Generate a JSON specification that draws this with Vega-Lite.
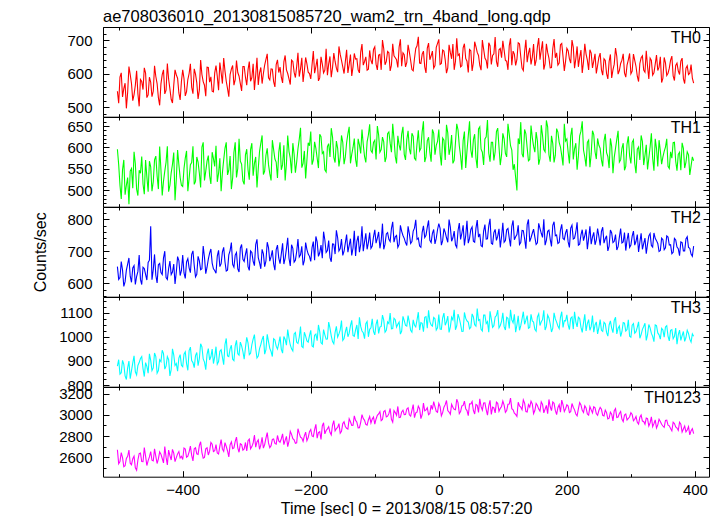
{
"$schema": "https://vega.github.io/schema/vega-lite/v6.json",
"title": {"text": "ae708036010_20130815085720_wam2_trn_4band_long.qdp", "anchor": "start", "frame": "group", "fontSize": 16.5, "font": "Liberation Sans", "fontWeight": "normal", "color": "black", "offset": -12, "baseline": "alphabetic"},
"padding": {"left": 32, "top": 8, "right": 5, "bottom": 0},
"spacing": 0,
"bounds": "flush",
"config": {
  "font": "Liberation Sans",
  "view": {"stroke": "black", "strokeWidth": 1},
  "axis": {"domain": false, "grid": false, "labelFont": "Liberation Sans", "labelFontSize": 15, "labelColor": "black", "tickColor": "black", "tickWidth": 1, "titleFont": "Liberation Sans", "titleFontSize": 16, "titleFontWeight": "normal", "titleColor": "black", "format": "d", "minExtent": 0},
  "title": {"font": "Liberation Sans", "fontSize": 16, "fontWeight": "normal", "color": "black"}
},
"data": {"values": [
{"t":-502,"a":548,"b":596,"c":652,"d":878,"e":2672},
{"t":-498,"a":590,"b":512,"c":618,"d":845,"e":2560},
{"t":-494,"a":531,"b":548,"c":641,"d":902,"e":2598},
{"t":-490,"a":572,"b":490,"c":605,"d":838,"e":2521},
{"t":-486,"a":545,"b":530,"c":660,"d":871,"e":2610},
{"t":-482,"a":598,"b":545,"c":622,"d":826,"e":2545},
{"t":-478,"a":520,"b":505,"c":648,"d":892,"e":2588},
{"t":-474,"a":566,"b":562,"c":596,"d":855,"e":2502},
{"t":-470,"a":541,"b":488,"c":637,"d":881,"e":2575},
{"t":-466,"a":583,"b":540,"c":612,"d":910,"e":2640},
{"t":-462,"a":553,"b":515,"c":650,"d":868,"e":2559},
{"t":-458,"a":602,"b":571,"c":628,"d":893,"e":2612},
{"t":-454,"a":537,"b":497,"c":665,"d":849,"e":2570},
{"t":-450,"a":575,"b":555,"c":778,"d":902,"e":2655},
{"t":-446,"a":548,"b":520,"c":642,"d":871,"e":2566},
{"t":-442,"a":592,"b":580,"c":625,"d":918,"e":2610},
{"t":-438,"a":529,"b":503,"c":658,"d":860,"e":2585},
{"t":-434,"a":570,"b":548,"c":633,"d":897,"e":2630},
{"t":-430,"a":612,"b":522,"c":679,"d":930,"e":2548},
{"t":-426,"a":551,"b":566,"c":618,"d":878,"e":2602},
{"t":-422,"a":584,"b":497,"c":646,"d":905,"e":2668},
{"t":-418,"a":524,"b":541,"c":627,"d":864,"e":2575},
{"t":-414,"a":566,"b":588,"c":660,"d":925,"e":2640},
{"t":-410,"a":597,"b":526,"c":635,"d":889,"e":2597},
{"t":-406,"a":543,"b":560,"c":671,"d":912,"e":2655},
{"t":-402,"a":578,"b":512,"c":640,"d":882,"e":2610},
{"t":-398,"a":586,"b":551,"c":632,"d":928,"e":2688},
{"t":-394,"a":547,"b":592,"c":667,"d":889,"e":2601},
{"t":-390,"a":601,"b":528,"c":648,"d":943,"e":2652},
{"t":-386,"a":560,"b":565,"c":690,"d":901,"e":2619},
{"t":-382,"a":615,"b":514,"c":655,"d":872,"e":2680},
{"t":-378,"a":573,"b":578,"c":628,"d":935,"e":2633},
{"t":-374,"a":552,"b":540,"c":670,"d":910,"e":2712},
{"t":-370,"a":598,"b":601,"c":645,"d":958,"e":2645},
{"t":-366,"a":566,"b":523,"c":681,"d":895,"e":2600},
{"t":-362,"a":620,"b":568,"c":650,"d":927,"e":2690},
{"t":-358,"a":575,"b":534,"c":694,"d":904,"e":2658},
{"t":-354,"a":548,"b":589,"c":663,"d":949,"e":2723},
{"t":-350,"a":603,"b":556,"c":640,"d":918,"e":2662},
{"t":-346,"a":592,"b":520,"c":685,"d":886,"e":2641},
{"t":-342,"a":634,"b":575,"c":652,"d":940,"e":2706},
{"t":-338,"a":571,"b":541,"c":698,"d":915,"e":2677},
{"t":-334,"a":609,"b":598,"c":667,"d":968,"e":2739},
{"t":-330,"a":556,"b":536,"c":641,"d":921,"e":2660},
{"t":-326,"a":598,"b":580,"c":702,"d":950,"e":2718},
{"t":-322,"a":625,"b":529,"c":659,"d":907,"e":2682},
{"t":-318,"a":583,"b":612,"c":688,"d":962,"e":2751},
{"t":-314,"a":604,"b":551,"c":645,"d":930,"e":2690},
{"t":-310,"a":571,"b":568,"c":710,"d":978,"e":2728},
{"t":-306,"a":622,"b":522,"c":675,"d":939,"e":2668},
{"t":-302,"a":590,"b":583,"c":690,"d":955,"e":2740},
{"t":-298,"a":612,"b":548,"c":652,"d":975,"e":2757},
{"t":-294,"a":578,"b":595,"c":701,"d":932,"e":2680},
{"t":-290,"a":630,"b":534,"c":668,"d":990,"e":2733},
{"t":-286,"a":596,"b":578,"c":721,"d":951,"e":2696},
{"t":-282,"a":567,"b":551,"c":680,"d":920,"e":2765},
{"t":-278,"a":619,"b":610,"c":645,"d":968,"e":2718},
{"t":-274,"a":601,"b":537,"c":692,"d":1003,"e":2687},
{"t":-270,"a":643,"b":582,"c":670,"d":947,"e":2781},
{"t":-266,"a":588,"b":560,"c":711,"d":980,"e":2736},
{"t":-262,"a":615,"b":523,"c":683,"d":939,"e":2710},
{"t":-258,"a":577,"b":595,"c":660,"d":992,"e":2773},
{"t":-254,"a":628,"b":566,"c":705,"d":961,"e":2725},
{"t":-250,"a":604,"b":589,"c":679,"d":972,"e":2754},
{"t":-246,"a":590,"b":548,"c":692,"d":948,"e":2775},
{"t":-242,"a":636,"b":605,"c":660,"d":1001,"e":2720},
{"t":-238,"a":612,"b":562,"c":708,"d":965,"e":2797},
{"t":-234,"a":585,"b":591,"c":678,"d":994,"e":2753},
{"t":-230,"a":641,"b":540,"c":720,"d":950,"e":2816},
{"t":-226,"a":605,"b":584,"c":666,"d":1012,"e":2764},
{"t":-222,"a":622,"b":566,"c":699,"d":977,"e":2737},
{"t":-218,"a":592,"b":619,"c":682,"d":998,"e":2825},
{"t":-214,"a":648,"b":553,"c":715,"d":960,"e":2781},
{"t":-210,"a":610,"b":592,"c":671,"d":1019,"e":2803},
{"t":-206,"a":630,"b":571,"c":705,"d":983,"e":2757},
{"t":-202,"a":601,"b":604,"c":684,"d":1005,"e":2841},
{"t":-198,"a":627,"b":560,"c":711,"d":962,"e":2801},
{"t":-194,"a":602,"b":613,"c":672,"d":1006,"e":2860},
{"t":-190,"a":645,"b":575,"c":729,"d":984,"e":2780},
{"t":-186,"a":588,"b":631,"c":695,"d":1021,"e":2842},
{"t":-182,"a":630,"b":586,"c":678,"d":970,"e":2895},
{"t":-178,"a":611,"b":548,"c":735,"d":1008,"e":2821},
{"t":-174,"a":596,"b":602,"c":702,"d":991,"e":2868},
{"t":-170,"a":652,"b":578,"c":680,"d":1036,"e":2836},
{"t":-166,"a":619,"b":624,"c":723,"d":980,"e":2904},
{"t":-162,"a":637,"b":565,"c":691,"d":1018,"e":2850},
{"t":-158,"a":605,"b":598,"c":742,"d":999,"e":2881},
{"t":-154,"a":658,"b":577,"c":708,"d":1029,"e":2827},
{"t":-150,"a":621,"b":612,"c":687,"d":985,"e":2918},
{"t":-146,"a":637,"b":578,"c":726,"d":1020,"e":2890},
{"t":-142,"a":603,"b":632,"c":697,"d":1000,"e":2866},
{"t":-138,"a":658,"b":563,"c":739,"d":1046,"e":2935},
{"t":-134,"a":621,"b":600,"c":710,"d":1006,"e":2902},
{"t":-130,"a":644,"b":572,"c":685,"d":1029,"e":2948},
{"t":-126,"a":612,"b":620,"c":748,"d":991,"e":2878},
{"t":-122,"a":665,"b":586,"c":721,"d":1043,"e":2930},
{"t":-118,"a":626,"b":607,"c":700,"d":1017,"e":2965},
{"t":-114,"a":651,"b":565,"c":756,"d":1054,"e":2911},
{"t":-110,"a":614,"b":629,"c":727,"d":1000,"e":2952},
{"t":-106,"a":640,"b":593,"c":709,"d":1037,"e":2923},
{"t":-102,"a":673,"b":612,"c":745,"d":1022,"e":2980},
{"t":-98,"a":629,"b":572,"c":725,"d":1052,"e":2961},
{"t":-94,"a":656,"b":629,"c":760,"d":1014,"e":3008},
{"t":-90,"a":612,"b":595,"c":732,"d":1043,"e":2945},
{"t":-86,"a":675,"b":613,"c":706,"d":1069,"e":3032},
{"t":-82,"a":637,"b":578,"c":754,"d":1027,"e":2980},
{"t":-78,"a":663,"b":636,"c":737,"d":1055,"e":3011},
{"t":-74,"a":626,"b":589,"c":771,"d":1033,"e":2958},
{"t":-70,"a":654,"b":620,"c":728,"d":1077,"e":3040},
{"t":-66,"a":642,"b":563,"c":749,"d":1040,"e":2996},
{"t":-62,"a":680,"b":606,"c":721,"d":1061,"e":2975},
{"t":-58,"a":623,"b":631,"c":762,"d":1024,"e":3028},
{"t":-54,"a":657,"b":584,"c":740,"d":1067,"e":3002},
{"t":-50,"a":634,"b":618,"c":718,"d":1044,"e":3055},
{"t":-46,"a":665,"b":597,"c":754,"d":1060,"e":3000},
{"t":-42,"a":613,"b":633,"c":730,"d":1019,"e":3043},
{"t":-38,"a":646,"b":575,"c":772,"d":1048,"e":2974},
{"t":-34,"a":684,"b":610,"c":737,"d":1070,"e":3026},
{"t":-30,"a":632,"b":592,"c":716,"d":1028,"e":3059},
{"t":-26,"a":659,"b":637,"c":759,"d":1056,"e":3003},
{"t":-22,"a":621,"b":566,"c":743,"d":1081,"e":3038},
{"t":-18,"a":677,"b":616,"c":775,"d":1036,"e":3066},
{"t":-14,"a":642,"b":589,"c":734,"d":1063,"e":3012},
{"t":-10,"a":668,"b":642,"c":756,"d":1044,"e":3050},
{"t":-6,"a":625,"b":583,"c":723,"d":1075,"e":3077},
{"t":-2,"a":691,"b":614,"c":767,"d":1037,"e":3024},
{"t":2,"a":628,"b":585,"c":771,"d":1032,"e":3078},
{"t":6,"a":671,"b":622,"c":733,"d":1079,"e":3021},
{"t":10,"a":642,"b":571,"c":759,"d":1048,"e":3096},
{"t":14,"a":618,"b":634,"c":728,"d":1086,"e":3040},
{"t":18,"a":664,"b":598,"c":775,"d":1041,"e":3005},
{"t":22,"a":689,"b":563,"c":742,"d":1070,"e":3072},
{"t":26,"a":637,"b":611,"c":720,"d":1029,"e":3048},
{"t":30,"a":655,"b":641,"c":764,"d":1094,"e":3115},
{"t":34,"a":621,"b":580,"c":737,"d":1052,"e":3031},
{"t":38,"a":678,"b":616,"c":781,"d":1023,"e":3089},
{"t":42,"a":646,"b":552,"c":749,"d":1077,"e":3058},
{"t":46,"a":604,"b":627,"c":725,"d":1061,"e":2992},
{"t":50,"a":669,"b":594,"c":768,"d":1039,"e":3102},
{"t":54,"a":633,"b":618,"c":731,"d":1082,"e":3041},
{"t":58,"a":681,"b":575,"c":772,"d":1044,"e":3098},
{"t":62,"a":655,"b":643,"c":744,"d":1068,"e":3023},
{"t":66,"a":611,"b":596,"c":717,"d":1031,"e":3077},
{"t":70,"a":674,"b":559,"c":763,"d":1090,"e":3112},
{"t":74,"a":640,"b":625,"c":738,"d":1055,"e":3050},
{"t":78,"a":693,"b":587,"c":779,"d":1019,"e":3085},
{"t":82,"a":628,"b":612,"c":725,"d":1073,"e":3003},
{"t":86,"a":660,"b":570,"c":758,"d":1046,"e":3066},
{"t":90,"a":637,"b":637,"c":734,"d":1088,"e":3120},
{"t":94,"a":672,"b":601,"c":770,"d":1037,"e":3034},
{"t":98,"a":648,"b":583,"c":745,"d":1064,"e":3079},
{"t":102,"a":671,"b":620,"c":728,"d":1042,"e":3092},
{"t":106,"a":638,"b":578,"c":767,"d":1081,"e":3040},
{"t":110,"a":684,"b":631,"c":741,"d":1035,"e":3101},
{"t":114,"a":626,"b":594,"c":778,"d":1070,"e":3058},
{"t":118,"a":659,"b":561,"c":736,"d":1093,"e":3016},
{"t":122,"a":643,"b":500,"c":752,"d":1049,"e":2985},
{"t":126,"a":690,"b":608,"c":721,"d":1027,"e":3083},
{"t":130,"a":617,"b":585,"c":765,"d":1074,"e":3049},
{"t":134,"a":666,"b":642,"c":739,"d":1052,"e":3110},
{"t":138,"a":635,"b":599,"c":783,"d":1088,"e":3027},
{"t":142,"a":678,"b":572,"c":730,"d":1039,"e":3073},
{"t":146,"a":650,"b":623,"c":756,"d":1066,"e":3102},
{"t":150,"a":624,"b":589,"c":744,"d":1031,"e":3041},
{"t":154,"a":681,"b":615,"c":726,"d":1083,"e":3088},
{"t":158,"a":642,"b":574,"c":771,"d":1047,"e":3035},
{"t":162,"a":697,"b":628,"c":743,"d":1071,"e":3099},
{"t":166,"a":630,"b":590,"c":719,"d":1028,"e":3054},
{"t":170,"a":664,"b":648,"c":762,"d":1090,"e":3011},
{"t":174,"a":618,"b":567,"c":737,"d":1053,"e":3076},
{"t":178,"a":675,"b":609,"c":781,"d":1036,"e":3121},
{"t":182,"a":648,"b":582,"c":748,"d":1074,"e":3042},
{"t":186,"a":626,"b":636,"c":724,"d":1045,"e":3067},
{"t":190,"a":687,"b":601,"c":766,"d":1081,"e":3025},
{"t":194,"a":652,"b":558,"c":740,"d":1039,"e":3094},
{"t":198,"a":638,"b":615,"c":757,"d":1066,"e":3058},
{"t":202,"a":669,"b":589,"c":729,"d":1049,"e":3082},
{"t":206,"a":632,"b":627,"c":772,"d":1077,"e":3030},
{"t":210,"a":680,"b":572,"c":738,"d":1032,"e":3071},
{"t":214,"a":645,"b":610,"c":760,"d":1062,"e":3008},
{"t":218,"a":621,"b":581,"c":719,"d":1081,"e":3056},
{"t":222,"a":671,"b":638,"c":751,"d":1040,"e":3093},
{"t":226,"a":636,"b":594,"c":733,"d":1058,"e":3022},
{"t":230,"a":659,"b":556,"c":768,"d":1024,"e":3065},
{"t":234,"a":612,"b":617,"c":740,"d":1071,"e":2998},
{"t":238,"a":662,"b":585,"c":722,"d":1043,"e":3047},
{"t":242,"a":638,"b":630,"c":759,"d":1019,"e":3076},
{"t":246,"a":601,"b":573,"c":735,"d":1062,"e":3012},
{"t":250,"a":649,"b":605,"c":746,"d":1038,"e":3041},
{"t":254,"a":612,"b":571,"c":762,"d":1027,"e":3052},
{"t":258,"a":645,"b":615,"c":725,"d":1060,"e":2990},
{"t":262,"a":601,"b":588,"c":748,"d":1018,"e":3021},
{"t":266,"a":637,"b":552,"c":716,"d":1049,"e":2968},
{"t":270,"a":588,"b":602,"c":757,"d":1036,"e":3006},
{"t":274,"a":629,"b":577,"c":731,"d":1068,"e":3040},
{"t":278,"a":652,"b":619,"c":704,"d":1012,"e":2975},
{"t":282,"a":610,"b":566,"c":744,"d":1045,"e":3012},
{"t":286,"a":641,"b":598,"c":726,"d":1021,"e":2960},
{"t":290,"a":603,"b":547,"c":758,"d":1057,"e":2998},
{"t":294,"a":626,"b":608,"c":735,"d":1030,"e":2951},
{"t":298,"a":661,"b":580,"c":712,"d":1002,"e":2982},
{"t":302,"a":608,"b":612,"c":747,"d":1048,"e":3003},
{"t":306,"a":640,"b":563,"c":719,"d":1015,"e":2958},
{"t":310,"a":593,"b":596,"c":752,"d":1040,"e":2930},
{"t":314,"a":631,"b":571,"c":728,"d":994,"e":2977},
{"t":318,"a":654,"b":614,"c":706,"d":1031,"e":2942},
{"t":322,"a":605,"b":582,"c":741,"d":1056,"e":2911},
{"t":326,"a":622,"b":549,"c":722,"d":1008,"e":2965},
{"t":330,"a":647,"b":601,"c":755,"d":1037,"e":2924},
{"t":334,"a":596,"b":575,"c":713,"d":1002,"e":2889},
{"t":338,"a":629,"b":620,"c":740,"d":1049,"e":2952},
{"t":342,"a":610,"b":556,"c":724,"d":1016,"e":2906},
{"t":346,"a":651,"b":592,"c":702,"d":990,"e":2938},
{"t":350,"a":587,"b":578,"c":736,"d":1028,"e":2895},
{"t":354,"a":633,"b":601,"c":711,"d":1041,"e":2948},
{"t":358,"a":602,"b":556,"c":744,"d":1003,"e":2903},
{"t":362,"a":641,"b":590,"c":720,"d":1027,"e":2872},
{"t":366,"a":594,"b":611,"c":697,"d":992,"e":2931},
{"t":370,"a":625,"b":568,"c":735,"d":1036,"e":2886},
{"t":374,"a":609,"b":584,"c":708,"d":1008,"e":2855},
{"t":378,"a":638,"b":547,"c":729,"d":985,"e":2912},
{"t":382,"a":586,"b":598,"c":701,"d":1022,"e":2867},
{"t":386,"a":617,"b":566,"c":738,"d":997,"e":2840},
{"t":390,"a":598,"b":583,"c":712,"d":1014,"e":2889},
{"t":394,"a":628,"b":557,"c":691,"d":978,"e":2851},
{"t":398,"a":572,"b":569,"c":716,"d":1002,"e":2823},
{"t":-500,"a":512,"b":560,"c":612,"d":905,"e":2540},
{"t":-496,"a":603,"b":480,"c":668,"d":851,"e":2645},
{"t":-492,"a":556,"b":571,"c":590,"d":886,"e":2512},
{"t":-488,"a":497,"b":512,"c":641,"d":823,"e":2590},
{"t":-484,"a":622,"b":468,"c":679,"d":899,"e":2668},
{"t":-480,"a":571,"b":551,"c":603,"d":860,"e":2531},
{"t":-476,"a":538,"b":590,"c":655,"d":921,"e":2611},
{"t":-472,"a":609,"b":503,"c":621,"d":842,"e":2479},
{"t":-468,"a":503,"b":547,"c":688,"d":893,"e":2635},
{"t":-464,"a":577,"b":579,"c":596,"d":918,"e":2560},
{"t":-460,"a":618,"b":491,"c":646,"d":835,"e":2692},
{"t":-456,"a":529,"b":532,"c":610,"d":877,"e":2523},
{"t":-452,"a":590,"b":568,"c":672,"d":929,"e":2604},
{"t":-448,"a":532,"b":498,"c":611,"d":860,"e":2573},
{"t":-444,"a":624,"b":571,"c":690,"d":933,"e":2680},
{"t":-440,"a":571,"b":534,"c":601,"d":849,"e":2542},
{"t":-436,"a":506,"b":602,"c":662,"d":905,"e":2651},
{"t":-432,"a":598,"b":488,"c":627,"d":944,"e":2589},
{"t":-428,"a":540,"b":545,"c":700,"d":866,"e":2701},
{"t":-424,"a":631,"b":603,"c":612,"d":918,"e":2528},
{"t":-420,"a":555,"b":512,"c":669,"d":838,"e":2617},
{"t":-416,"a":513,"b":561,"c":635,"d":950,"e":2675},
{"t":-412,"a":612,"b":477,"c":598,"d":881,"e":2560},
{"t":-408,"a":587,"b":594,"c":683,"d":857,"e":2633},
{"t":-404,"a":522,"b":530,"c":624,"d":926,"e":2594},
{"t":-400,"a":612,"b":509,"c":688,"d":876,"e":2580},
{"t":-396,"a":534,"b":575,"c":615,"d":938,"e":2679},
{"t":-392,"a":583,"b":498,"c":677,"d":861,"e":2612},
{"t":-388,"a":630,"b":560,"c":633,"d":957,"e":2705},
{"t":-384,"a":541,"b":603,"c":701,"d":893,"e":2566},
{"t":-380,"a":599,"b":521,"c":620,"d":922,"e":2690},
{"t":-376,"a":525,"b":566,"c":684,"d":880,"e":2628},
{"t":-372,"a":641,"b":507,"c":642,"d":971,"e":2747},
{"t":-368,"a":577,"b":612,"c":716,"d":908,"e":2593},
{"t":-364,"a":533,"b":545,"c":630,"d":864,"e":2681},
{"t":-360,"a":619,"b":581,"c":675,"d":951,"e":2622},
{"t":-356,"a":591,"b":515,"c":707,"d":917,"e":2740},
{"t":-352,"a":546,"b":574,"c":645,"d":889,"e":2655},
{"t":-348,"a":625,"b":604,"c":631,"d":959,"e":2720},
{"t":-344,"a":551,"b":540,"c":703,"d":897,"e":2631},
{"t":-340,"a":604,"b":498,"c":661,"d":946,"e":2768},
{"t":-336,"a":647,"b":571,"c":712,"d":884,"e":2657},
{"t":-332,"a":578,"b":612,"c":638,"d":993,"e":2702},
{"t":-328,"a":532,"b":547,"c":689,"d":918,"e":2604},
{"t":-324,"a":614,"b":503,"c":727,"d":965,"e":2745},
{"t":-320,"a":566,"b":589,"c":650,"d":901,"e":2689},
{"t":-316,"a":640,"b":530,"c":696,"d":985,"e":2790},
{"t":-312,"a":593,"b":620,"c":635,"d":924,"e":2648},
{"t":-308,"a":549,"b":561,"c":721,"d":962,"e":2721},
{"t":-304,"a":622,"b":514,"c":668,"d":907,"e":2679},
{"t":-300,"a":566,"b":596,"c":709,"d":998,"e":2661},
{"t":-296,"a":637,"b":525,"c":640,"d":926,"e":2772},
{"t":-292,"a":589,"b":610,"c":696,"d":967,"e":2701},
{"t":-288,"a":552,"b":563,"c":655,"d":1009,"e":2810},
{"t":-284,"a":648,"b":507,"c":737,"d":912,"e":2745},
{"t":-280,"a":603,"b":591,"c":664,"d":951,"e":2676},
{"t":-276,"a":571,"b":628,"c":706,"d":989,"e":2789},
{"t":-272,"a":626,"b":545,"c":652,"d":928,"e":2720},
{"t":-268,"a":660,"b":598,"c":728,"d":1010,"e":2833},
{"t":-264,"a":582,"b":539,"c":669,"d":952,"e":2692},
{"t":-260,"a":614,"b":617,"c":703,"d":918,"e":2768},
{"t":-256,"a":561,"b":573,"c":641,"d":987,"e":2731},
{"t":-252,"a":642,"b":529,"c":719,"d":949,"e":2806},
{"t":-248,"a":620,"b":612,"c":661,"d":1001,"e":2742},
{"t":-244,"a":573,"b":560,"c":725,"d":932,"e":2821},
{"t":-240,"a":655,"b":523,"c":678,"d":989,"e":2760},
{"t":-236,"a":601,"b":628,"c":742,"d":1030,"e":2701},
{"t":-232,"a":568,"b":575,"c":654,"d":966,"e":2845},
{"t":-228,"a":637,"b":610,"c":709,"d":941,"e":2776},
{"t":-224,"a":589,"b":541,"c":672,"d":1018,"e":2732},
{"t":-220,"a":663,"b":597,"c":738,"d":972,"e":2869},
{"t":-216,"a":615,"b":646,"c":689,"d":1042,"e":2790},
{"t":-212,"a":576,"b":563,"c":656,"d":955,"e":2751},
{"t":-208,"a":649,"b":528,"c":727,"d":1003,"e":2838},
{"t":-204,"a":605,"b":611,"c":691,"d":978,"e":2786},
{"t":-200,"a":585,"b":637,"c":668,"d":1027,"e":2862},
{"t":-196,"a":668,"b":571,"c":730,"d":958,"e":2795},
{"t":-192,"a":622,"b":598,"c":746,"d":1011,"e":2910},
{"t":-188,"a":579,"b":552,"c":684,"d":1049,"e":2834},
{"t":-184,"a":651,"b":625,"c":719,"d":975,"e":2768},
{"t":-180,"a":603,"b":590,"c":761,"d":1030,"e":2925},
{"t":-176,"a":675,"b":543,"c":696,"d":990,"e":2853},
{"t":-172,"a":630,"b":609,"c":733,"d":1061,"e":2889},
{"t":-168,"a":590,"b":645,"c":667,"d":1004,"e":2812},
{"t":-164,"a":662,"b":577,"c":722,"d":971,"e":2946},
{"t":-160,"a":617,"b":615,"c":765,"d":1043,"e":2870},
{"t":-156,"a":682,"b":556,"c":701,"d":1012,"e":2918},
{"t":-152,"a":640,"b":628,"c":738,"d":1067,"e":2845},
{"t":-148,"a":601,"b":561,"c":700,"d":993,"e":2935},
{"t":-144,"a":672,"b":611,"c":752,"d":1041,"e":2874},
{"t":-140,"a":628,"b":648,"c":718,"d":1015,"e":2962},
{"t":-136,"a":594,"b":584,"c":687,"d":1068,"e":2901},
{"t":-132,"a":661,"b":621,"c":764,"d":1002,"e":2990},
{"t":-128,"a":645,"b":555,"c":731,"d":1049,"e":2931},
{"t":-124,"a":603,"b":606,"c":697,"d":1081,"e":2879},
{"t":-120,"a":689,"b":642,"c":778,"d":1024,"e":3002},
{"t":-116,"a":637,"b":579,"c":729,"d":992,"e":2948},
{"t":-112,"a":611,"b":613,"c":706,"d":1063,"e":2903},
{"t":-108,"a":670,"b":654,"c":758,"d":1031,"e":2985},
{"t":-104,"a":629,"b":588,"c":716,"d":1075,"e":2960},
{"t":-100,"a":681,"b":617,"c":767,"d":1008,"e":2912},
{"t":-96,"a":612,"b":650,"c":741,"d":1071,"e":2995},
{"t":-92,"a":658,"b":589,"c":709,"d":1040,"e":3030},
{"t":-88,"a":701,"b":624,"c":786,"d":1090,"e":2956},
{"t":-84,"a":627,"b":566,"c":722,"d":1019,"e":3041},
{"t":-80,"a":667,"b":632,"c":758,"d":1062,"e":2987},
{"t":-76,"a":609,"b":610,"c":730,"d":1098,"e":3060},
{"t":-72,"a":690,"b":655,"c":792,"d":1034,"e":2931},
{"t":-68,"a":648,"b":579,"c":745,"d":1071,"e":3021},
{"t":-64,"a":619,"b":627,"c":712,"d":1052,"e":3079},
{"t":-60,"a":703,"b":593,"c":781,"d":1011,"e":2978},
{"t":-56,"a":663,"b":648,"c":749,"d":1085,"e":3044},
{"t":-52,"a":621,"b":571,"c":727,"d":1047,"e":3003},
{"t":-48,"a":687,"b":639,"c":778,"d":1088,"e":3066},
{"t":-44,"a":640,"b":584,"c":724,"d":1027,"e":2988},
{"t":-40,"a":609,"b":626,"c":763,"d":1070,"e":3097},
{"t":-36,"a":676,"b":571,"c":798,"d":1041,"e":3019},
{"t":-32,"a":711,"b":640,"c":741,"d":1102,"e":3082},
{"t":-28,"a":631,"b":598,"c":712,"d":1059,"e":2965},
{"t":-24,"a":668,"b":661,"c":779,"d":1021,"e":3110},
{"t":-20,"a":603,"b":578,"c":750,"d":1084,"e":3047},
{"t":-16,"a":692,"b":624,"c":796,"d":1110,"e":3001},
{"t":-12,"a":654,"b":567,"c":727,"d":1049,"e":3092},
{"t":-8,"a":617,"b":633,"c":768,"d":1080,"e":3125},
{"t":-4,"a":679,"b":605,"c":740,"d":1028,"e":3033},
{"t":0,"a":703,"b":642,"c":786,"d":1092,"e":3108},
{"t":4,"a":631,"b":558,"c":719,"d":1031,"e":2990},
{"t":8,"a":668,"b":617,"c":771,"d":1098,"e":3072},
{"t":12,"a":602,"b":653,"c":742,"d":1062,"e":3135},
{"t":16,"a":687,"b":583,"c":799,"d":1018,"e":3026},
{"t":20,"a":645,"b":629,"c":731,"d":1081,"e":3099},
{"t":24,"a":612,"b":570,"c":763,"d":1112,"e":3052},
{"t":28,"a":706,"b":655,"c":712,"d":1045,"e":3147},
{"t":32,"a":659,"b":604,"c":788,"d":1076,"e":3011},
{"t":36,"a":624,"b":548,"c":756,"d":1022,"e":3084},
{"t":40,"a":690,"b":637,"c":718,"d":1101,"e":3129},
{"t":44,"a":638,"b":592,"c":795,"d":1066,"e":3040},
{"t":48,"a":673,"b":661,"c":740,"d":1033,"e":3103},
{"t":52,"a":609,"b":576,"c":776,"d":1095,"e":3125},
{"t":56,"a":696,"b":631,"c":728,"d":1050,"e":3008},
{"t":60,"a":664,"b":552,"c":797,"d":1117,"e":3090},
{"t":64,"a":625,"b":648,"c":754,"d":1072,"e":3151},
{"t":68,"a":701,"b":589,"c":714,"d":1024,"e":3044},
{"t":72,"a":647,"b":620,"c":783,"d":1090,"e":3113},
{"t":76,"a":616,"b":664,"c":739,"d":1063,"e":2997},
{"t":80,"a":684,"b":567,"c":801,"d":1106,"e":3136},
{"t":84,"a":655,"b":612,"c":722,"d":1039,"e":3072},
{"t":88,"a":710,"b":590,"c":768,"d":1082,"e":3018},
{"t":92,"a":621,"b":645,"c":747,"d":1111,"e":3108},
{"t":96,"a":676,"b":559,"c":712,"d":1047,"e":3061},
{"t":100,"a":699,"b":633,"c":789,"d":1099,"e":3130},
{"t":104,"a":640,"b":586,"c":733,"d":1028,"e":3024},
{"t":108,"a":612,"b":655,"c":771,"d":1077,"e":3099},
{"t":112,"a":706,"b":604,"c":715,"d":1112,"e":3157},
{"t":116,"a":668,"b":548,"c":796,"d":1058,"e":3047},
{"t":120,"a":625,"b":530,"c":745,"d":1019,"e":3004},
{"t":124,"a":693,"b":621,"c":781,"d":1087,"e":3118},
{"t":128,"a":651,"b":659,"c":727,"d":1046,"e":3072},
{"t":132,"a":610,"b":577,"c":764,"d":1104,"e":3140},
{"t":136,"a":702,"b":632,"c":708,"d":1069,"e":3031},
{"t":140,"a":661,"b":569,"c":799,"d":1035,"e":3096},
{"t":144,"a":628,"b":651,"c":742,"d":1093,"e":3128},
{"t":148,"a":689,"b":603,"c":769,"d":1061,"e":3012},
{"t":152,"a":640,"b":636,"c":721,"d":1023,"e":3107},
{"t":156,"a":707,"b":560,"c":787,"d":1095,"e":3054},
{"t":160,"a":671,"b":652,"c":756,"d":1062,"e":3122},
{"t":164,"a":613,"b":595,"c":800,"d":1110,"e":3018},
{"t":168,"a":690,"b":663,"c":734,"d":1043,"e":3089},
{"t":172,"a":647,"b":583,"c":766,"d":1078,"e":3145},
{"t":176,"a":619,"b":627,"c":715,"d":1020,"e":3040},
{"t":180,"a":704,"b":565,"c":792,"d":1099,"e":3108},
{"t":184,"a":663,"b":644,"c":751,"d":1061,"e":3002},
{"t":188,"a":632,"b":612,"c":727,"d":1034,"e":3095},
{"t":192,"a":691,"b":581,"c":784,"d":1104,"e":3138},
{"t":196,"a":609,"b":655,"c":736,"d":1067,"e":3031},
{"t":200,"a":676,"b":620,"c":769,"d":1091,"e":3094},
{"t":204,"a":645,"b":563,"c":712,"d":1030,"e":3021},
{"t":208,"a":701,"b":646,"c":781,"d":1082,"e":3107},
{"t":212,"a":617,"b":597,"c":741,"d":1104,"e":3047},
{"t":216,"a":682,"b":548,"c":790,"d":1041,"e":2990},
{"t":220,"a":649,"b":627,"c":722,"d":1076,"e":3116},
{"t":224,"a":603,"b":661,"c":767,"d":1018,"e":3042},
{"t":228,"a":690,"b":578,"c":749,"d":1093,"e":3085},
{"t":232,"a":641,"b":612,"c":706,"d":1055,"e":3009},
{"t":236,"a":672,"b":554,"c":778,"d":1027,"e":3078},
{"t":240,"a":618,"b":639,"c":744,"d":1088,"e":3019},
{"t":244,"a":660,"b":590,"c":720,"d":1049,"e":3066},
{"t":248,"a":625,"b":621,"c":771,"d":1012,"e":2996},
{"t":252,"a":662,"b":598,"c":718,"d":1071,"e":3070},
{"t":256,"a":596,"b":556,"c":775,"d":1022,"e":2995},
{"t":260,"a":640,"b":632,"c":739,"d":1054,"e":3044},
{"t":264,"a":585,"b":579,"c":701,"d":1003,"e":2961},
{"t":268,"a":658,"b":621,"c":766,"d":1066,"e":3025},
{"t":272,"a":612,"b":540,"c":727,"d":1017,"e":2943},
{"t":276,"a":677,"b":598,"c":752,"d":1081,"e":3059},
{"t":280,"a":599,"b":639,"c":714,"d":1036,"e":2980},
{"t":284,"a":631,"b":571,"c":771,"d":1001,"e":3031},
{"t":288,"a":660,"b":610,"c":729,"d":1059,"e":2936},
{"t":292,"a":590,"b":556,"c":702,"d":1024,"e":3008},
{"t":296,"a":642,"b":626,"c":757,"d":1070,"e":2966},
{"t":300,"a":600,"b":563,"c":719,"d":998,"e":3020},
{"t":304,"a":659,"b":618,"c":763,"d":1055,"e":2944},
{"t":308,"a":622,"b":540,"c":731,"d":1021,"e":2985},
{"t":312,"a":577,"b":601,"c":698,"d":1062,"e":2913},
{"t":316,"a":648,"b":628,"c":756,"d":1009,"e":2998},
{"t":320,"a":611,"b":559,"c":724,"d":1043,"e":2937},
{"t":324,"a":669,"b":606,"c":692,"d":985,"e":2970},
{"t":328,"a":585,"b":575,"c":748,"d":1051,"e":2895},
{"t":332,"a":640,"b":633,"c":718,"d":1014,"e":2981},
{"t":336,"a":603,"b":546,"c":757,"d":980,"e":2917},
{"t":340,"a":656,"b":598,"c":733,"d":1046,"e":2876},
{"t":344,"a":620,"b":617,"c":699,"d":1008,"e":2959},
{"t":348,"a":574,"b":561,"c":741,"d":1035,"e":2911},
{"t":352,"a":649,"b":591,"c":705,"d":998,"e":2882},
{"t":356,"a":595,"b":620,"c":748,"d":1046,"e":2951},
{"t":360,"a":617,"b":551,"c":719,"d":983,"e":2897},
{"t":364,"a":653,"b":575,"c":692,"d":1030,"e":2850},
{"t":368,"a":580,"b":612,"c":740,"d":1002,"e":2918},
{"t":372,"a":632,"b":546,"c":713,"d":969,"e":2876},
{"t":376,"a":598,"b":589,"c":686,"d":1028,"e":2931},
{"t":380,"a":647,"b":611,"c":727,"d":1005,"e":2838},
{"t":384,"a":571,"b":552,"c":701,"d":981,"e":2894},
{"t":388,"a":624,"b":590,"c":745,"d":1027,"e":2857},
{"t":392,"a":602,"b":536,"c":709,"d":990,"e":2812},
{"t":396,"a":587,"b":578,"c":684,"d":1012,"e":2870}
]},
"vconcat": [
{
 "width": 606, "height": 89.7,
 "layer": [
  {"mark": {"type": "line", "color": "#ff0000", "strokeWidth": 1.1, "clip": true},
   "encoding": {
    "x": {"field": "t", "type": "quantitative", "scale": {"domain": [-524.5, 422], "nice": false, "zero": false}, "axis": {"orient": "bottom", "title": null, "labels": false, "values": [-400,-200,0,200,400], "tickSize": -6}},
    "y": {"field": "a", "type": "quantitative", "scale": {"domain": [472, 740], "nice": false, "zero": false}, "axis": {"orient": "left", "title": null, "values": [500,600,700], "tickSize": -6, "labelPadding": 17}}
   }},
  {"mark": {"type": "line", "opacity": 0},
   "encoding": {
    "x": {"field": "t", "type": "quantitative", "axis": {"orient": "top", "title": null, "labels": false, "values": [-400,-200,0,200,400], "tickSize": -6}},
    "y": {"field": "a", "type": "quantitative", "axis": {"orient": "right", "title": null, "labels": false, "values": [500,600,700], "tickSize": -6}}
   }},
  {"mark": {"type": "line", "opacity": 0},
   "encoding": {
    "x": {"field": "t", "type": "quantitative", "axis": {"orient": "bottom", "title": null, "labels": false, "values": [-500,-300,-100,100,300], "tickSize": -3}},
    "y": {"field": "a", "type": "quantitative", "axis": {"orient": "left", "title": null, "labels": false, "values": [480,520,540,560,580,620,640,660,680,720,740], "tickSize": -3}}
   }},
  {"mark": {"type": "line", "opacity": 0},
   "encoding": {
    "x": {"field": "t", "type": "quantitative", "axis": {"orient": "top", "title": null, "labels": false, "values": [-500,-300,-100,100,300], "tickSize": -3}},
    "y": {"field": "a", "type": "quantitative", "axis": {"orient": "right", "title": null, "labels": false, "values": [480,520,540,560,580,620,640,660,680,720,740], "tickSize": -3}}
   }},
  {"transform": [{"filter": "datum.t === 398"}],
   "mark": {"type": "text", "align": "right", "baseline": "alphabetic", "dx": -8, "dy": 15.5, "fontSize": 16, "font": "Liberation Sans", "color": "black"},
   "encoding": {
    "x": {"datum": 422, "type": "quantitative", "axis": null},
    "y": {"datum": 740, "type": "quantitative", "axis": null},
    "text": {"value": "TH0"}
   }}
 ],
 "resolve": {"axis": {"x": "independent", "y": "independent"}}
},
{
 "width": 606, "height": 89.7,
 "layer": [
  {"mark": {"type": "line", "color": "#00ff00", "strokeWidth": 1.1, "clip": true},
   "encoding": {
    "x": {"field": "t", "type": "quantitative", "scale": {"domain": [-524.5, 422], "nice": false, "zero": false}, "axis": {"orient": "bottom", "title": null, "labels": false, "values": [-400,-200,0,200,400], "tickSize": -6}},
    "y": {"field": "b", "type": "quantitative", "scale": {"domain": [462, 671], "nice": false, "zero": false}, "axis": {"orient": "left", "title": null, "values": [500,550,600,650], "tickSize": -6, "labelPadding": 17}}
   }},
  {"mark": {"type": "line", "opacity": 0},
   "encoding": {
    "x": {"field": "t", "type": "quantitative", "axis": {"orient": "top", "title": null, "labels": false, "values": [-400,-200,0,200,400], "tickSize": -6}},
    "y": {"field": "b", "type": "quantitative", "axis": {"orient": "right", "title": null, "labels": false, "values": [500,550,600,650], "tickSize": -6}}
   }},
  {"mark": {"type": "line", "opacity": 0},
   "encoding": {
    "x": {"field": "t", "type": "quantitative", "axis": {"orient": "bottom", "title": null, "labels": false, "values": [-500,-300,-100,100,300], "tickSize": -3}},
    "y": {"field": "b", "type": "quantitative", "axis": {"orient": "left", "title": null, "labels": false, "values": [470,480,490,510,520,530,540,560,570,580,590,610,620,630,640,660,670], "tickSize": -3}}
   }},
  {"mark": {"type": "line", "opacity": 0},
   "encoding": {
    "x": {"field": "t", "type": "quantitative", "axis": {"orient": "top", "title": null, "labels": false, "values": [-500,-300,-100,100,300], "tickSize": -3}},
    "y": {"field": "b", "type": "quantitative", "axis": {"orient": "right", "title": null, "labels": false, "values": [470,480,490,510,520,530,540,560,570,580,590,610,620,630,640,660,670], "tickSize": -3}}
   }},
  {"transform": [{"filter": "datum.t === 398"}],
   "mark": {"type": "text", "align": "right", "baseline": "alphabetic", "dx": -8, "dy": 15.5, "fontSize": 16, "font": "Liberation Sans", "color": "black"},
   "encoding": {
    "x": {"datum": 422, "type": "quantitative", "axis": null},
    "y": {"datum": 671, "type": "quantitative", "axis": null},
    "text": {"value": "TH1"}
   }}
 ],
 "resolve": {"axis": {"x": "independent", "y": "independent"}}
},
{
 "width": 606, "height": 89.7,
 "layer": [
  {"mark": {"type": "line", "color": "#0000ff", "strokeWidth": 1.1, "clip": true},
   "encoding": {
    "x": {"field": "t", "type": "quantitative", "scale": {"domain": [-524.5, 422], "nice": false, "zero": false}, "axis": {"orient": "bottom", "title": null, "labels": false, "values": [-400,-200,0,200,400], "tickSize": -6}},
    "y": {"field": "c", "type": "quantitative", "scale": {"domain": [558, 838], "nice": false, "zero": false}, "axis": {"orient": "left", "title": "Counts/sec", "titlePadding": 18, "values": [600,700,800], "tickSize": -6, "labelPadding": 17}}
   }},
  {"mark": {"type": "line", "opacity": 0},
   "encoding": {
    "x": {"field": "t", "type": "quantitative", "axis": {"orient": "top", "title": null, "labels": false, "values": [-400,-200,0,200,400], "tickSize": -6}},
    "y": {"field": "c", "type": "quantitative", "axis": {"orient": "right", "title": null, "labels": false, "values": [600,700,800], "tickSize": -6}}
   }},
  {"mark": {"type": "line", "opacity": 0},
   "encoding": {
    "x": {"field": "t", "type": "quantitative", "axis": {"orient": "bottom", "title": null, "labels": false, "values": [-500,-300,-100,100,300], "tickSize": -3}},
    "y": {"field": "c", "type": "quantitative", "axis": {"orient": "left", "title": null, "labels": false, "values": [560,580,620,640,660,680,720,740,760,780,820], "tickSize": -3}}
   }},
  {"mark": {"type": "line", "opacity": 0},
   "encoding": {
    "x": {"field": "t", "type": "quantitative", "axis": {"orient": "top", "title": null, "labels": false, "values": [-500,-300,-100,100,300], "tickSize": -3}},
    "y": {"field": "c", "type": "quantitative", "axis": {"orient": "right", "title": null, "labels": false, "values": [560,580,620,640,660,680,720,740,760,780,820], "tickSize": -3}}
   }},
  {"transform": [{"filter": "datum.t === 398"}],
   "mark": {"type": "text", "align": "right", "baseline": "alphabetic", "dx": -8, "dy": 15.5, "fontSize": 16, "font": "Liberation Sans", "color": "black"},
   "encoding": {
    "x": {"datum": 422, "type": "quantitative", "axis": null},
    "y": {"datum": 838, "type": "quantitative", "axis": null},
    "text": {"value": "TH2"}
   }}
 ],
 "resolve": {"axis": {"x": "independent", "y": "independent"}}
},
{
 "width": 606, "height": 89.7,
 "layer": [
  {"mark": {"type": "line", "color": "#00ffff", "strokeWidth": 1.1, "clip": true},
   "encoding": {
    "x": {"field": "t", "type": "quantitative", "scale": {"domain": [-524.5, 422], "nice": false, "zero": false}, "axis": {"orient": "bottom", "title": null, "labels": false, "values": [-400,-200,0,200,400], "tickSize": -6}},
    "y": {"field": "d", "type": "quantitative", "scale": {"domain": [793, 1165], "nice": false, "zero": false}, "axis": {"orient": "left", "title": null, "values": [800,900,1000,1100], "tickSize": -6, "labelPadding": 17}}
   }},
  {"mark": {"type": "line", "opacity": 0},
   "encoding": {
    "x": {"field": "t", "type": "quantitative", "axis": {"orient": "top", "title": null, "labels": false, "values": [-400,-200,0,200,400], "tickSize": -6}},
    "y": {"field": "d", "type": "quantitative", "axis": {"orient": "right", "title": null, "labels": false, "values": [800,900,1000,1100], "tickSize": -6}}
   }},
  {"mark": {"type": "line", "opacity": 0},
   "encoding": {
    "x": {"field": "t", "type": "quantitative", "axis": {"orient": "bottom", "title": null, "labels": false, "values": [-500,-300,-100,100,300], "tickSize": -3}},
    "y": {"field": "d", "type": "quantitative", "axis": {"orient": "left", "title": null, "labels": false, "values": [825,850,875,925,950,975,1025,1050,1075,1125,1150], "tickSize": -3}}
   }},
  {"mark": {"type": "line", "opacity": 0},
   "encoding": {
    "x": {"field": "t", "type": "quantitative", "axis": {"orient": "top", "title": null, "labels": false, "values": [-500,-300,-100,100,300], "tickSize": -3}},
    "y": {"field": "d", "type": "quantitative", "axis": {"orient": "right", "title": null, "labels": false, "values": [825,850,875,925,950,975,1025,1050,1075,1125,1150], "tickSize": -3}}
   }},
  {"transform": [{"filter": "datum.t === 398"}],
   "mark": {"type": "text", "align": "right", "baseline": "alphabetic", "dx": -8, "dy": 15.5, "fontSize": 16, "font": "Liberation Sans", "color": "black"},
   "encoding": {
    "x": {"datum": 422, "type": "quantitative", "axis": null},
    "y": {"datum": 1165, "type": "quantitative", "axis": null},
    "text": {"value": "TH3"}
   }}
 ],
 "resolve": {"axis": {"x": "independent", "y": "independent"}}
},
{
 "width": 606, "height": 89.7,
 "layer": [
  {"mark": {"type": "line", "color": "#ff00ff", "strokeWidth": 1.1, "clip": true},
   "encoding": {
    "x": {"field": "t", "type": "quantitative", "scale": {"domain": [-524.5, 422], "nice": false, "zero": false}, "axis": {"orient": "bottom", "title": "Time [sec] 0 = 2013/08/15 08:57:20", "titlePadding": 3, "labelPadding": 12, "labelFlush": false, "values": [-400,-200,0,200,400], "tickSize": -6}},
    "y": {"field": "e", "type": "quantitative", "scale": {"domain": [2418, 3262], "nice": false, "zero": false}, "axis": {"orient": "left", "title": null, "values": [2600,2800,3000,3200], "tickSize": -6, "labelPadding": 17}}
   }},
  {"mark": {"type": "line", "opacity": 0},
   "encoding": {
    "x": {"field": "t", "type": "quantitative", "axis": {"orient": "top", "title": null, "labels": false, "values": [-400,-200,0,200,400], "tickSize": -6}},
    "y": {"field": "e", "type": "quantitative", "axis": {"orient": "right", "title": null, "labels": false, "values": [2600,2800,3000,3200], "tickSize": -6}}
   }},
  {"mark": {"type": "line", "opacity": 0},
   "encoding": {
    "x": {"field": "t", "type": "quantitative", "axis": {"orient": "bottom", "title": null, "labels": false, "values": [-500,-300,-100,100,300], "tickSize": -3}},
    "y": {"field": "e", "type": "quantitative", "axis": {"orient": "left", "title": null, "labels": false, "values": [2500,2700,2900,3100], "tickSize": -3}}
   }},
  {"mark": {"type": "line", "opacity": 0},
   "encoding": {
    "x": {"field": "t", "type": "quantitative", "axis": {"orient": "top", "title": null, "labels": false, "values": [-500,-300,-100,100,300], "tickSize": -3}},
    "y": {"field": "e", "type": "quantitative", "axis": {"orient": "right", "title": null, "labels": false, "values": [2500,2700,2900,3100], "tickSize": -3}}
   }},
  {"transform": [{"filter": "datum.t === 398"}],
   "mark": {"type": "text", "align": "right", "baseline": "alphabetic", "dx": -8, "dy": 15.5, "fontSize": 16, "font": "Liberation Sans", "color": "black"},
   "encoding": {
    "x": {"datum": 422, "type": "quantitative", "axis": null},
    "y": {"datum": 3262, "type": "quantitative", "axis": null},
    "text": {"value": "TH0123"}
   }}
 ],
 "resolve": {"axis": {"x": "independent", "y": "independent"}}
}
]
}
